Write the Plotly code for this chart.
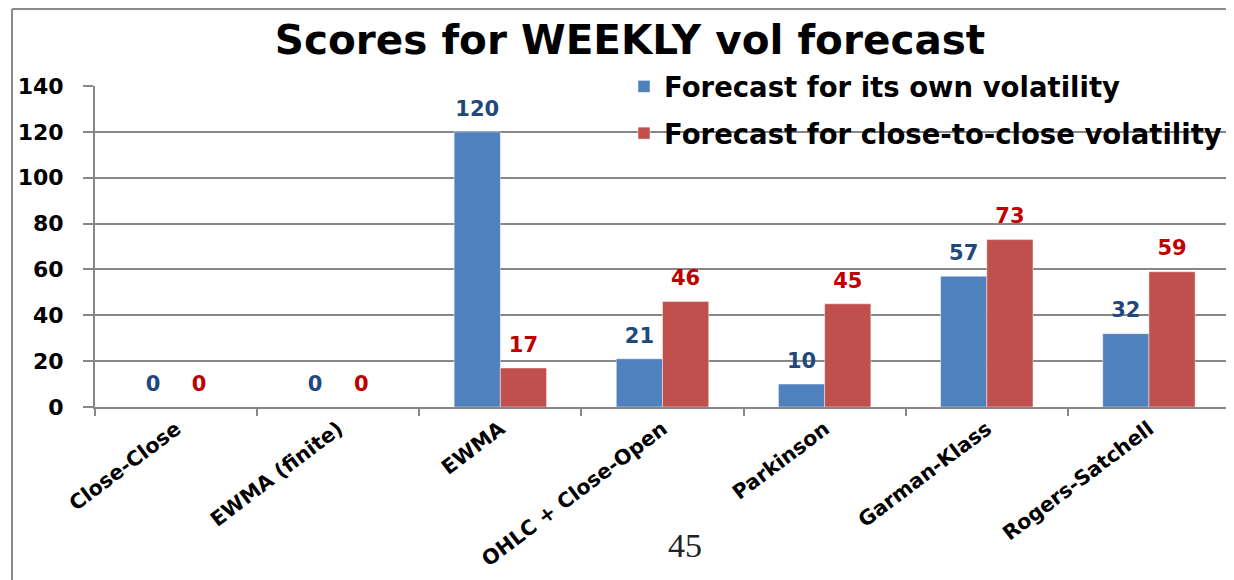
import plotly.graph_objects as go

categories = ["Close-Close", "EWMA (finite)", "EWMA", "OHLC + Close-Open",
              "Parkinson", "Garman-Klass", "Rogers-Satchell"]
own_vol = [0, 0, 120, 21, 10, 57, 32]
c2c_vol = [0, 0, 17, 46, 45, 73, 59]
series_names = ["Forecast for its own volatility",
                "Forecast for close-to-close volatility"]
y_ticks = [0, 20, 40, 60, 80, 100, 120, 140]

OFF = 8  # page body margin
W, H = 1234 - OFF, 580 - OFF
L, R, T = 95 - OFF, 4, 86 - OFF
B = H - (407 - OFF)
pw = W - L - R
ph = H - T - B

def px(x):  # page pixel -> paper x
    return (x - OFF - L) / pw

def py(y):  # page pixel -> paper y
    return (H - B - (y - OFF)) / ph

FONT = "DejaVu Sans"
GAP = 0.43

fig = go.Figure()
for vals, name, col, grp in [
    (own_vol, series_names[0], "#4F81BD", "a"),
    (c2c_vol, series_names[1], "#C0504D", "b"),
]:
    fig.add_trace(go.Bar(
        x=categories, y=vals, name=name,
        marker=dict(color=col, line=dict(color="rgba(255,255,255,0.45)", width=1)),
        legendgroup=grp, hoverinfo="skip",
    ))
for vals, tcol in [(own_vol, "#1F497D"), (c2c_vol, "#C00000")]:
    fig.add_trace(go.Scatter(
        x=categories, y=vals, mode="markers+text",
        marker=dict(size=16, opacity=0),
        text=[str(v) for v in vals], textposition="top center",
        textfont=dict(family=FONT, size=21, color=tcol, weight="bold"),
        cliponaxis=False, showlegend=False, hoverinfo="skip",
    ))

fig.update_layout(
    width=W, height=H,
    margin=dict(l=L, r=R, t=T, b=B, autoexpand=False),
    paper_bgcolor="white", plot_bgcolor="white",
    barmode="group", bargap=GAP, bargroupgap=0,
    scattermode="group", scattergap=GAP,
    title=dict(text="Scores for WEEKLY vol forecast", x=(630 - OFF) / W, xanchor="center",
               y=1 - (40 - OFF) / H, yanchor="middle", xref="container", yref="container",
               font=dict(family=FONT, size=40.5, color="black", weight="bold")),
    legend=dict(x=px(624), y=py(62), xanchor="left", yanchor="top",
                bgcolor="rgba(0,0,0,0)", traceorder="grouped", tracegroupgap=8,
                font=dict(family=FONT, size=27.5, color="black", weight="bold"),
                itemwidth=30),
    showlegend=True,
)
fig.update_xaxes(
    type="category", showline=True, linecolor="#878787", linewidth=2,
    ticks="outside", tickson="boundaries", ticklen=7, tickcolor="#878787", tickwidth=2,
    tickangle=-37, showgrid=False, automargin=False,
    tickfont=dict(family=FONT, size=20.5, color="black", weight="bold"),
)
fig.update_yaxes(
    range=[0, 140], tickvals=y_ticks, showline=True, linecolor="#878787", linewidth=2,
    ticks="outside", ticklen=10, tickcolor="#878787", tickwidth=2,
    showgrid=True, gridcolor="#878787", gridwidth=2, zeroline=False,
    ticklabelstandoff=15, automargin=False,
    tickfont=dict(family=FONT, size=22, color="black", weight="bold"),
)

# outer chart frame (left and top edges visible)
fig.add_shape(type="line", xref="paper", yref="paper",
              x0=px(12), x1=px(1230), y0=py(9), y1=py(9),
              line=dict(color="#8c8c8c", width=2))
fig.add_shape(type="line", xref="paper", yref="paper",
              x0=px(12), x1=px(12), y0=py(9), y1=py(590),
              line=dict(color="#8c8c8c", width=2))

# page number
fig.add_annotation(text="45", x=px(685), y=py(545), xref="paper", yref="paper",
                   showarrow=False, xanchor="center", yanchor="middle",
                   font=dict(family="Liberation Serif", size=34, color="#222222"))

fig.write_html("out.html")
